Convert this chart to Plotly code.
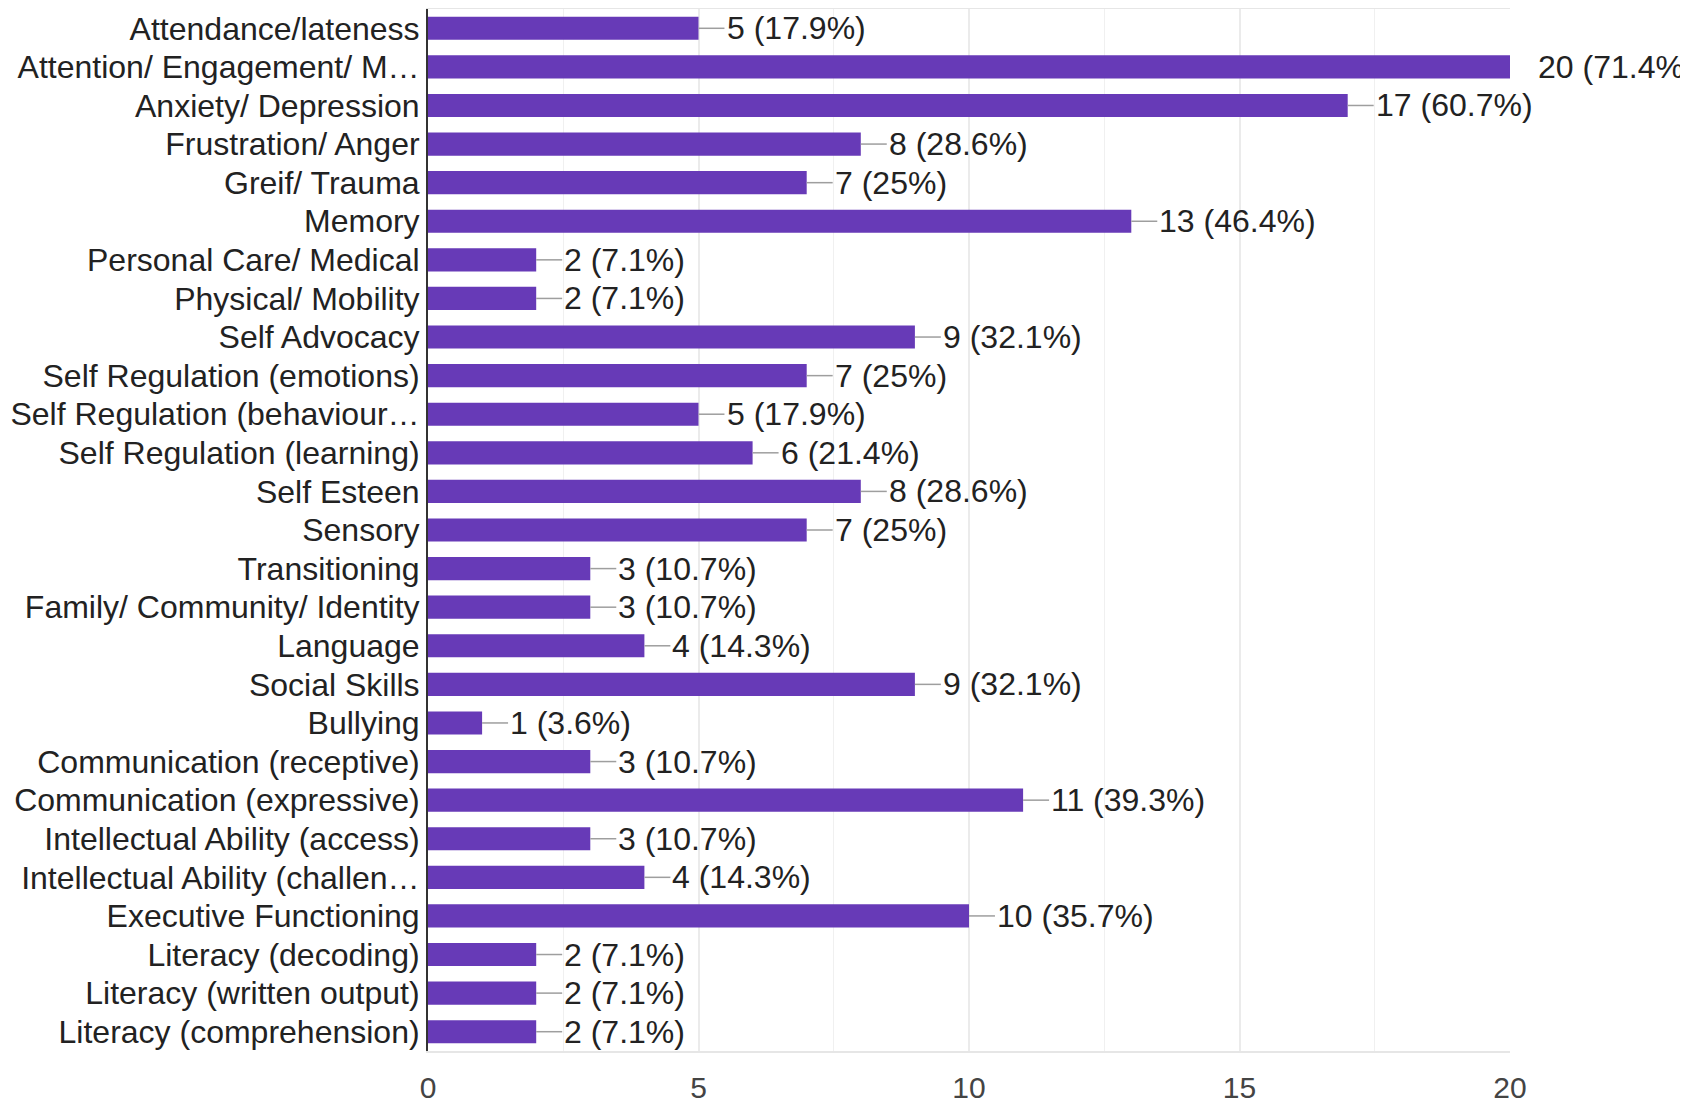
import plotly.graph_objects as go

categories = [
    "Attendance/lateness",
    "Attention/ Engagement/ M…",
    "Anxiety/ Depression",
    "Frustration/ Anger",
    "Greif/ Trauma",
    "Memory",
    "Personal Care/ Medical",
    "Physical/ Mobility",
    "Self Advocacy",
    "Self Regulation (emotions)",
    "Self Regulation (behaviour…",
    "Self Regulation (learning)",
    "Self Esteen",
    "Sensory",
    "Transitioning",
    "Family/ Community/ Identity",
    "Language",
    "Social Skills",
    "Bullying",
    "Communication (receptive)",
    "Communication (expressive)",
    "Intellectual Ability (access)",
    "Intellectual Ability (challen…",
    "Executive Functioning",
    "Literacy (decoding)",
    "Literacy (written output)",
    "Literacy (comprehension)",
]
counts = [5, 20, 17, 8, 7, 13, 2, 2, 9, 7, 5, 6, 8, 7, 3, 3, 4, 9, 1, 3, 11, 3, 4, 10, 2, 2, 2]
percents = [17.9, 71.4, 60.7, 28.6, 25, 46.4, 7.1, 7.1, 32.1, 25, 17.9, 21.4, 28.6, 25,
            10.7, 10.7, 14.3, 32.1, 3.6, 10.7, 39.3, 10.7, 14.3, 35.7, 7.1, 7.1, 7.1]
x_ticks = [0, 5, 10, 15, 20]

FONT = "Liberation Sans, Arial, Helvetica, sans-serif"
BAR_COLOR = "#673ab7"
FS = 32

fig = go.Figure()
fig.add_trace(go.Bar(
    y=categories, x=counts, orientation="h",
    marker=dict(color=BAR_COLOR, line=dict(width=0)),
    width=0.6, hoverinfo="skip", showlegend=False,
))

# leader lines
lx, ly = [], []
for c, v in zip(categories, counts):
    lx += [v, v + 0.48, None]
    ly += [c, c, None]
fig.add_trace(go.Scatter(
    x=lx, y=ly, mode="lines", line=dict(color="#9e9e9e", width=1.5),
    hoverinfo="skip", showlegend=False,
))

for c, v, p in zip(categories, counts, percents):
    fig.add_annotation(
        x=v, y=c, xref="x", yref="y", text=f"{v} ({p:g}%)",
        showarrow=False, xanchor="left", yanchor="middle", xshift=26,
        font=dict(family=FONT, size=FS, color="#222222"),
    )

fig.update_layout(
    width=1680, height=1096,
    margin=dict(l=420, r=178, t=1, b=53, autoexpand=False),
    paper_bgcolor="white", plot_bgcolor="white",
    bargap=0.4,
    font=dict(family=FONT, size=FS, color="#222222"),
)
fig.update_xaxes(
    range=[0, 20], tickvals=x_ticks, ticktext=[str(t) for t in x_ticks],
    showgrid=True, gridcolor="#ebebeb", gridwidth=1.5,
    minor=dict(dtick=2.5, tick0=0, showgrid=True, gridcolor="#f0f0f0", gridwidth=1),
    showline=True, linecolor="#e6e6e6", linewidth=2, mirror=True,
    ticks="outside", ticklen=9, tickcolor="rgba(0,0,0,0)",
    tickfont=dict(family=FONT, size=30, color="#444444"),
    zeroline=False, fixedrange=True, automargin=False,
)
fig.update_yaxes(
    type="category", categoryorder="array", categoryarray=categories,
    range=[len(categories) - 0.5, -0.5],
    tickmode="array", tickvals=categories, ticktext=categories,
    showline=True, linecolor="#333333", linewidth=2,
    showgrid=False, ticks="",
    tickfont=dict(family=FONT, size=FS, color="#222222"),
    fixedrange=True, automargin=False,
)

fig.write_html("out.html")
